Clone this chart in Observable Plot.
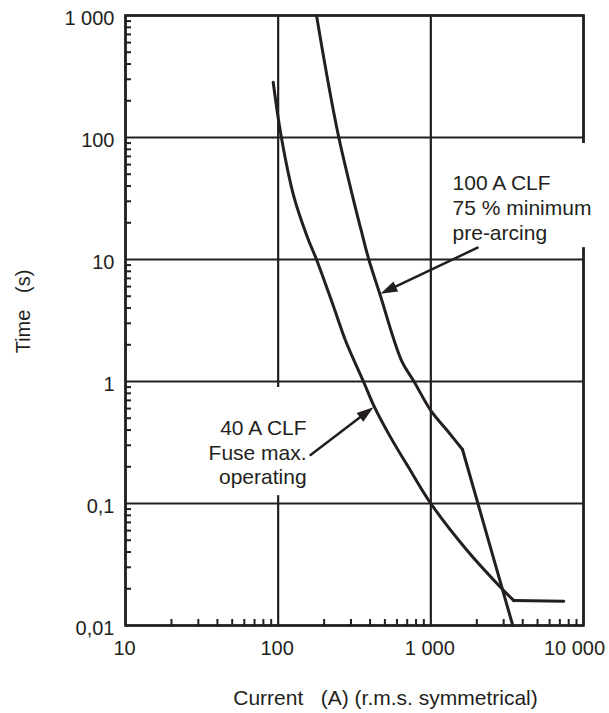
<!DOCTYPE html>
<html><head><meta charset="utf-8">
<script src="https://cdn.jsdelivr.net/npm/d3@7"></script>
<script src="https://cdn.jsdelivr.net/npm/@observablehq/plot@0.6"></script>
<style>body{margin:0;background:#fff}</style>
</head><body><div id="chart"></div>
<script>
// ---- data ----
const xTicks = [10, 100, 1000, 10000];
const yTicks = [0.01, 0.1, 1, 10, 100, 1000];
// 40 A CLF fuse, max. operating
const current40 = [92.8, 105, 127, 155.6, 178.3, 231.4, 276, 362, 427.6, 544, 714, 1000, 1730, 2860, 3494];
const time40 = [284, 100, 32.4, 15.15, 10, 4.06, 2.17, 1, 0.616, 0.35, 0.198, 0.1, 0.0412, 0.0206, 0.016];
const current40Tail = [3494, 7430];
const time40Tail = [0.016, 0.0158];
// 100 A CLF, 75 % minimum pre-arcing
const current100 = [178.3, 209.5, 249.6, 316, 349.9, 392.5, 463, 642.5, 776, 1000, 1280, 1612];
const time100 = [1000, 312, 100, 28.6, 17.3, 10, 5.24, 1.486, 1, 0.578, 0.397, 0.277];
const current100Tail = [1612, 3442];
const time100Tail = [0.277, 0.01];
// annotations
const label100 = "100 A CLF\n75 % minimum\npre-arcing";
const label40 = "40 A CLF\nFuse max.\noperating";
const labelX = [1387, 153.5];
const labelY = [26.7, 0.265];
const boxX1 = [1211, 33.4], boxX2 = [12900, 168], boxY1 = [89.3, 0.893], boxY2 = [12.5, 0.116];
const arrowX1 = [2024, 163], arrowY1 = [12.5, 0.25], arrowX2 = [468, 421], arrowY2 = [5.24, 0.616];

// ---- layout ----
const W = 609, H = 713, ML = 125, MR = 26, MT = 15, MB = 88;
const ink = "#231f20";
const font = "'Liberation Sans', Arial, Helvetica, sans-serif";

const minor = (decs) => decs.flatMap(d => [2,3,4,5,6,7,8,9].map(k => +(d*k).toPrecision(3)));
const xMinor = minor([10, 100, 1000]);
const yMinor = minor([0.01, 0.1, 1, 10, 100]);

const fmt = d => d >= 1 ? d3.format(",")(d).replace(/,/g, " ") : String(d).replace(".", ",");

const rows = (xs, ys) => xs.map((x, i) => ({x, y: ys[i]}));
const boxes = boxX1.map((_, i) => ({x1: boxX1[i], x2: boxX2[i], y1: boxY1[i], y2: boxY2[i]}));

const sx = d3.scaleLog().domain([10, 10000]).range([ML, W - MR]);
const sy = d3.scaleLog().domain([0.01, 1000]).range([H - MB, MT]);
const arrows = arrowX1.map((_, i) => {
  const dx = sx(arrowX2[i]) - sx(arrowX1[i]);
  const dy = sy(arrowY2[i]) - sy(arrowY1[i]);
  return {x1: arrowX1[i], y1: arrowY1[i], x2: arrowX2[i], y2: arrowY2[i],
          angle: Math.atan2(dx, -dy) * 180 / Math.PI};
});
const head = {draw(ctx) { ctx.moveTo(0, 0); ctx.lineTo(-5.5, 17); ctx.lineTo(5.5, 17); ctx.closePath(); }};

const chart = Plot.plot({
  width: W, height: H, marginLeft: ML, marginRight: MR, marginTop: MT, marginBottom: MB,
  x: {type: "log", domain: [10, 10000]},
  y: {type: "log", domain: [0.01, 1000]},
  style: {fontFamily: font, color: ink, background: "white", overflow: "visible"},
  marks: [
    Plot.gridX(xTicks, {stroke: ink, strokeOpacity: 1, strokeWidth: 2.2}),
    Plot.gridY(yTicks, {stroke: ink, strokeOpacity: 1, strokeWidth: 2.2}),
    Plot.frame({stroke: ink, strokeWidth: 2.6}),
    Plot.tickY(yMinor, {y: d => d, stroke: ink, strokeWidth: 2, insetRight: W - ML - MR - 6}),
    Plot.tickX(xMinor, {x: d => d, stroke: ink, strokeWidth: 2, insetTop: H - MT - MB - 6}),
    Plot.rect(boxes, {x1: d => d.x1, x2: d => d.x2, y1: d => d.y1, y2: d => d.y2, fill: "#ffffff", stroke: "none"}),
    Plot.line(rows(current40, time40), {x: "x", y: "y", curve: "catmull-rom", stroke: ink, strokeWidth: 3}),
    Plot.line(rows(current40Tail, time40Tail), {x: "x", y: "y", stroke: ink, strokeWidth: 3}),
    Plot.line(rows(current100, time100), {x: "x", y: "y", curve: "catmull-rom", stroke: ink, strokeWidth: 3}),
    Plot.line(rows(current100Tail, time100Tail), {x: "x", y: "y", stroke: ink, strokeWidth: 3}),
    Plot.arrow(arrows, {x1: "x1", y1: "y1", x2: "x2", y2: "y2", headLength: 0, insetEnd: 9, stroke: ink, strokeWidth: 2.5}),
    Plot.dot(arrows, {x: "x2", y: "y2", symbol: head, rotate: "angle", fill: ink, stroke: "none", r: 5}),
    Plot.text([label100], {x: labelX[0], y: labelY[0], textAnchor: "start", lineAnchor: "middle", lineHeight: 1.19, fontSize: 21, fill: ink}),
    Plot.text([label40], {x: labelX[1], y: labelY[1], textAnchor: "end", lineAnchor: "middle", lineHeight: 1.17, fontSize: 21, fill: ink}),
    Plot.axisX(xTicks.slice(0, 3), {tickSize: 0, tickPadding: 15, tickFormat: fmt, fontSize: 20, label: null, fill: ink, dx: -1}),
    Plot.axisX(xTicks.slice(3), {tickSize: 0, tickPadding: 15, tickFormat: fmt, fontSize: 20, label: null, fill: ink, dx: -9}),
    Plot.axisY(yTicks, {tickSize: 0, tickPadding: 11, tickFormat: fmt, fontSize: 20, label: null, dy: 3, fill: ink}),
    Plot.text(["Current\u00a0\u00a0\u00a0(A) (r.m.s. symmetrical)"], {frameAnchor: "bottom", textAnchor: "middle", dx: 31, dy: 73, fontSize: 21, fill: ink, lineAnchor: "middle"}),
    Plot.text(["Time\u00a0\u00a0\u00a0(s)"], {frameAnchor: "left", textAnchor: "middle", dx: -102, dy: -9, rotate: -90, fontSize: 20, fill: ink, lineAnchor: "middle"})
  ]
});
document.getElementById("chart").appendChild(chart);
</script>
</body></html>
